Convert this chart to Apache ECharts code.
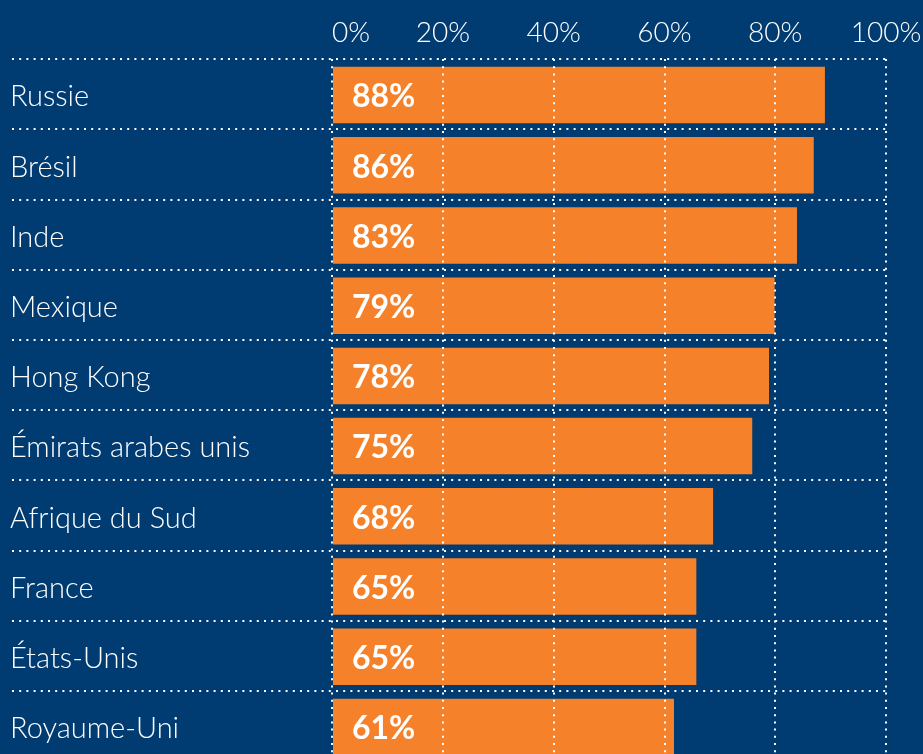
<!DOCTYPE html>
<html>
<head>
<meta charset="utf-8">
<style>
  html, body { margin: 0; padding: 0; background: #003B71; }
  #chart { width: 923px; height: 754px; }
</style>
<script src="https://cdn.jsdelivr.net/npm/echarts@6/dist/echarts.min.js"></script>
</head>
<body>
<div id="chart"></div>
<script>
const categories = ['Russie', 'Brésil', 'Inde', 'Mexique', 'Hong Kong', 'Émirats arabes unis', 'Afrique du Sud', 'France', 'États-Unis', 'Royaume-Uni'];
const values = [88, 86, 83, 79, 78, 75, 68, 65, 65, 61];

const BG = '#003B71';
const ORANGE = '#F5822A';
const FONT = 'Lato';
const dotted = { color: '#ffffff', width: 2, type: [2, 5.2], cap: 'butt' };
const gridBase = { outerBoundsMode: 'none', containLabel: false };

const chart = echarts.init(document.getElementById('chart'), null, { renderer: 'canvas' });
chart.setOption({
  backgroundColor: BG,
  animation: false,
  grid: [
    Object.assign({ left: 12, right: 37, top: 59, bottom: -7 }, gridBase),
    Object.assign({ left: 332, right: 37, top: 59, bottom: -7 }, gridBase),
    Object.assign({ left: 333, right: 31, top: 60, bottom: -8 }, gridBase),
    Object.assign({ left: 10, right: 600, top: 62, bottom: -10 }, gridBase)
  ],
  xAxis: [
    { gridIndex: 0, type: 'value', min: 0, max: 100, show: false },
    {
      gridIndex: 1, type: 'value', min: 0, max: 100, interval: 20, position: 'top', z: 5,
      axisLine: { show: false }, axisTick: { show: false },
      axisLabel: { color: '#ffffff', fontFamily: FONT, fontWeight: 300, fontSize: 28, margin: 12, formatter: '{value}%', alignMinLabel: 'left' },
      splitLine: { show: true, lineStyle: dotted }
    },
    { gridIndex: 2, type: 'value', min: 0, max: 100, show: false },
    { gridIndex: 3, type: 'value', min: 0, max: 100, show: false }
  ],
  yAxis: [
    {
      gridIndex: 0, type: 'category', data: categories, inverse: true,
      axisLine: { show: false }, axisTick: { show: false }, axisLabel: { show: false },
      splitLine: { show: true, lineStyle: dotted }
    },
    { gridIndex: 1, type: 'category', data: categories, inverse: true, show: false },
    { gridIndex: 2, type: 'category', data: categories, inverse: true, show: false },
    {
      gridIndex: 3, type: 'category', data: categories, inverse: true,
      axisLine: { show: false }, axisTick: { show: false }, splitLine: { show: false },
      axisLabel: { inside: true, margin: 0, color: '#ffffff', fontFamily: FONT, fontWeight: 300, fontSize: 29, align: 'left' }
    }
  ],
  series: [{
    type: 'bar', xAxisIndex: 2, yAxisIndex: 2, data: values,
    barWidth: '80.5%',
    itemStyle: { color: ORANGE },
    label: {
      show: true, position: 'insideLeft', distance: 19, offset: [0, 2],
      formatter: '{c}%', color: '#ffffff', fontFamily: FONT, fontWeight: 'bold', fontSize: 32
    }
  }]
});
</script>
</body>
</html>
